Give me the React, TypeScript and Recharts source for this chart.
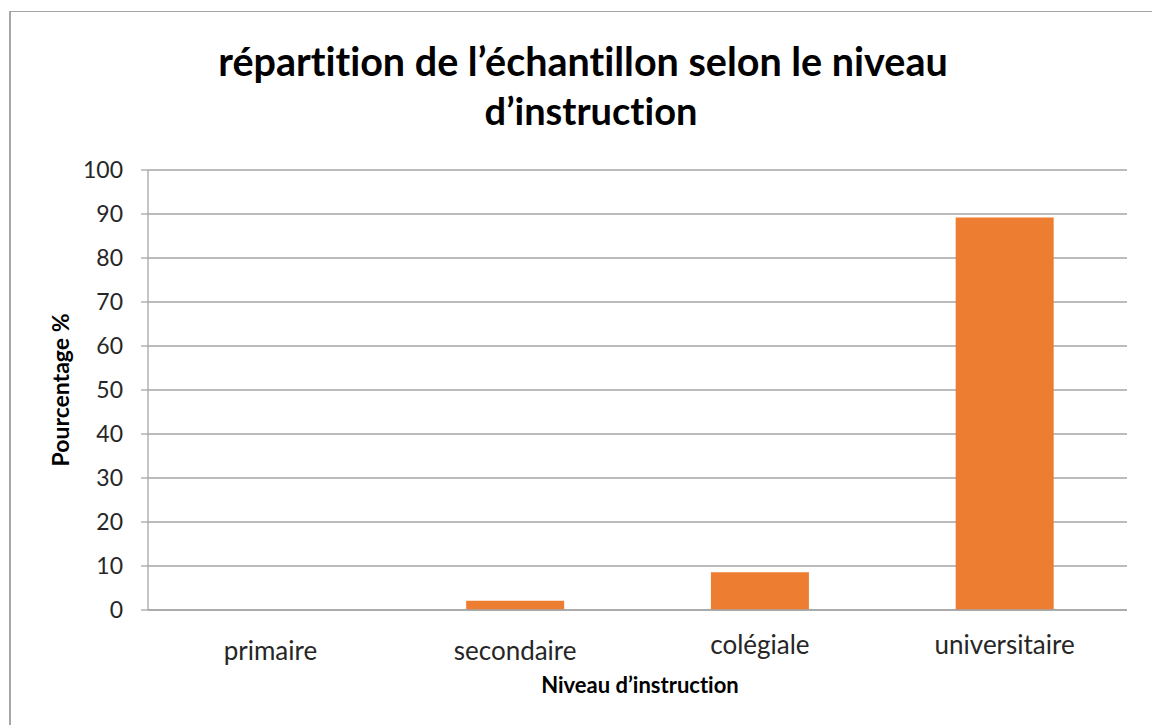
import React from "react";
import { BarChart, Bar, XAxis, YAxis, CartesianGrid } from "recharts";

const niveaux = ["primaire", "secondaire", "colégiale", "universitaire"];
const pourcentages = [0, 2.1, 8.6, 89.2];
const yTicks = [0, 10, 20, 30, 40, 50, 60, 70, 80, 90, 100];

const data = niveaux.map((niveau, i) => ({ niveau, pourcentage: pourcentages[i] }));

const FONT = "Lato, 'Open Sans', sans-serif";
const GRID = "#a6a6a6";

// Excel drew the last two labels a few px higher than the first two
const CategoryTick = ({ x, y, payload, index }: any) => (
  <text
    x={x}
    y={y + (index >= 2 ? 44 : 50)}
    textAnchor="middle"
    fontFamily={FONT}
    fontSize={26}
    fill="#262626"
  >
    {payload.value}
  </text>
);

export default function App() {
  return (
    <div
      style={{
        position: "absolute",
        left: 0,
        top: 0,
        width: 1152,
        height: 725,
        background: "#fff",
        overflow: "hidden",
        fontVariantLigatures: "none",
        fontFeatureSettings: '"liga" 0, "clig" 0',
      }}
    >
      <div
        style={{
          position: "absolute",
          left: 9,
          top: 11,
          width: 1170,
          height: 740,
          borderLeft: "2px solid #a6a6a6",
          borderTop: "1px solid #a6a6a6",
        }}
      />
      <div style={{ position: "absolute", left: 0, top: 0 }}>
        <BarChart
          width={1152}
          height={725}
          data={data}
          margin={{ top: 170, right: 25, left: 48, bottom: 75 }}
          barCategoryGap="30%"
        >
          <CartesianGrid vertical={false} stroke={GRID} strokeWidth={1.3} />
          <XAxis
            dataKey="niveau"
            height={40}
            axisLine={{ stroke: GRID, strokeWidth: 1.3 }}
            tickLine={false}
            tickSize={0}
            tickMargin={0}
            tick={<CategoryTick />}
            interval={0}
          />
          <YAxis
            width={100}
            domain={[0, 100]}
            ticks={yTicks}
            interval={0}
            axisLine={{ stroke: GRID, strokeWidth: 1.3 }}
            tickLine={{ stroke: GRID, strokeWidth: 1.3 }}
            tickSize={7}
            tickMargin={18}
            tick={{ fontFamily: FONT, fontSize: 23, fill: "#262626" }}
          />
          <Bar dataKey="pourcentage" fill="#ED7D31" isAnimationActive={false} />
        </BarChart>
      </div>
      <svg
        width={1152}
        height={725}
        style={{ position: "absolute", left: 0, top: 0, pointerEvents: "none" }}
      >
        <text
          x={583}
          y={76}
          textAnchor="middle"
          fontFamily={FONT}
          fontWeight="bold"
          fontSize={39.5}
          fill="#000"
        >
          répartition de l’échantillon selon le niveau
        </text>
        <text
          x={591}
          y={125}
          textAnchor="middle"
          fontFamily={FONT}
          fontWeight="bold"
          fontSize={38}
          fill="#000"
        >
          d’instruction
        </text>
        <text
          x={0}
          y={0}
          transform="translate(69 390) rotate(-90)"
          textAnchor="middle"
          fontFamily={FONT}
          fontWeight="bold"
          fontSize={23}
          fill="#000"
        >
          Pourcentage %
        </text>
        <text
          x={640}
          y={693}
          textAnchor="middle"
          fontFamily={FONT}
          fontWeight="bold"
          fontSize={22}
          fill="#000"
        >
          Niveau d’instruction
        </text>
      </svg>
    </div>
  );
}
